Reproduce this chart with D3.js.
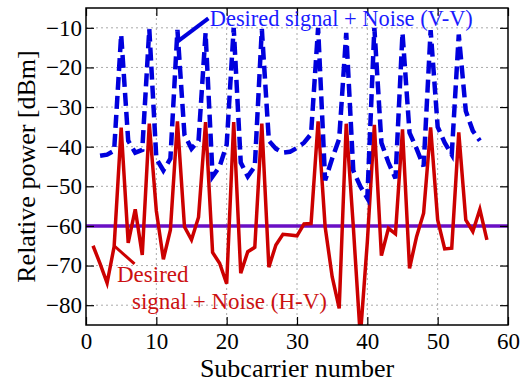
<!DOCTYPE html>
<html>
<head>
<meta charset="utf-8">
<script src="https://cdn.jsdelivr.net/npm/d3@7"></script>
<style>
  body { margin: 0; background: #fff; }
</style>
</head>
<body>
<script>
const width = 530;
const height = 387;
const margin = {top: 8, right: 22, bottom: 62, left: 86};
const FONT = "Liberation Serif";

// Subcarrier numbers and measured powers [dBm]
const hvCarriers = d3.range(1, 58);
const hvPower = [
  -65, -69.5, -74.4, -65.2, -35.2, -64.3, -55.8, -67.3, -34.2, -56.2,
  -68.4, -61, -33.6, -60.2, -63.5, -57.8, -33.8, -66.7, -69.4, -74.6,
  -33.8, -71.9, -66.5, -65.4, -34.2, -70.4, -64.8, -62.1, -62.3, -62.5,
  -59.5, -59.4, -33.6, -60.2, -72.8, -80.8, -34.2, -60, -88, -64,
  -34.5, -67.5, -60.6, -62, -35.6, -70.7, -62.7, -56.8, -35.1, -58.5,
  -65.8, -65.6, -36.4, -58.5, -61.4, -55.8, -63.5
];
const vvCarriers = d3.range(2, 57);
const vvPower = [
  -42.3, -42, -41, -11.7, -38.5, -41.5, -40.8, -10.3, -43,
  -46, -43, -10.5, -37, -40.5, -38.5, -11.3, -47.5, -45, -39.5,
  -10, -44, -47.5, -45, -10.3, -38.5, -40.5, -41.5, -41.3, -40.3,
  -39, -36.8, -10, -48.5, -43, -38, -11.3, -46, -50, -53,
  -10, -39, -44, -48, -11.3, -36.5, -40.5, -45, -10.6, -35,
  -39, -42, -11.7, -31, -36, -38.5
];
const noiseFloor = -60;

const xTicks = [0, 10, 20, 30, 40, 50, 60];
const yTicks = [-80, -70, -60, -50, -40, -30, -20, -10];

const svg = d3.select("body").append("svg")
    .attr("width", width)
    .attr("height", height)
    .attr("font-family", FONT);

const x = d3.scaleLinear().domain([0, 60]).range([margin.left, width - margin.right]);
const y = d3.scaleLinear().domain([-85, -5]).range([height - margin.bottom, margin.top]);

svg.append("defs").append("clipPath").attr("id", "plot")
  .append("rect")
    .attr("x", x(0)).attr("y", y(-5))
    .attr("width", x(60) - x(0)).attr("height", y(-85) - y(-5));

// grid
const grid = svg.append("g").attr("stroke", "#aaa").attr("stroke-dasharray", "2,3").attr("stroke-width", 1);
grid.selectAll(".gx").data(xTicks.slice(1, -1)).join("line")
    .attr("x1", d => x(d)).attr("x2", d => x(d))
    .attr("y1", y(-5)).attr("y2", y(-85));
grid.selectAll(".gy").data(yTicks).join("line")
    .attr("x1", x(0)).attr("x2", x(60))
    .attr("y1", d => y(d)).attr("y2", d => y(d));

const plot = svg.append("g").attr("clip-path", "url(#plot)");

// noise floor (blue and red overlap -> purple)
plot.append("line")
    .attr("x1", x(0)).attr("x2", x(60))
    .attr("y1", y(noiseFloor)).attr("y2", y(noiseFloor))
    .attr("stroke", "#6a0fc4").attr("stroke-width", 3.5);

const line = d3.line().x(d => x(d[0])).y(d => y(d[1]));

plot.append("path")
    .attr("d", line(d3.zip(hvCarriers, hvPower)))
    .attr("fill", "none").attr("stroke", "#cc0000").attr("stroke-width", 3.5)
    .attr("stroke-linejoin", "miter");

plot.append("path")
    .attr("d", line(d3.zip(vvCarriers, vvPower)))
    .attr("fill", "none").attr("stroke", "#0000dd").attr("stroke-width", 4.5)
    .attr("stroke-dasharray", "13,6");

// axes, ticks pointing inward on all four sides
const fmt = d3.format("d");
function styleAxis(g) {
  g.attr("font-family", FONT).attr("font-size", 23);
  g.select(".domain").remove();
  g.selectAll(".tick line").attr("stroke", "#000").attr("stroke-width", 1.2);
  g.selectAll(".tick text").attr("fill", "#000").attr("font-family", FONT);
}
svg.append("g").attr("transform", `translate(0,${y(-85)})`)
    .call(d3.axisBottom(x).tickValues(xTicks).tickFormat(fmt).tickSizeInner(-8).tickSizeOuter(0).tickPadding(8))
    .call(styleAxis);
svg.append("g").attr("transform", `translate(0,${y(-5)})`)
    .call(d3.axisTop(x).tickValues(xTicks).tickFormat("").tickSizeInner(-8).tickSizeOuter(0))
    .call(styleAxis);
svg.append("g").attr("transform", `translate(${x(0)},0)`)
    .call(d3.axisLeft(y).tickValues(yTicks).tickFormat(fmt).tickSizeInner(-8).tickSizeOuter(0).tickPadding(4))
    .call(styleAxis);
svg.append("g").attr("transform", `translate(${x(60)},0)`)
    .call(d3.axisRight(y).tickValues(yTicks).tickFormat("").tickSizeInner(-8).tickSizeOuter(0))
    .call(styleAxis);

svg.append("rect")
    .attr("x", x(0)).attr("y", y(-5))
    .attr("width", x(60) - x(0)).attr("height", y(-85) - y(-5))
    .attr("fill", "none").attr("stroke", "#000").attr("stroke-width", 1.5);

// axis titles
svg.append("text")
    .attr("x", (x(0) + x(60)) / 2).attr("y", height - 10)
    .attr("text-anchor", "middle").attr("font-size", 26).attr("font-family", FONT)
    .text("Subcarrier number");
svg.append("text")
    .attr("transform", `translate(35,${(y(-5) + y(-85)) / 2}) rotate(-90)`)
    .attr("text-anchor", "middle").attr("font-size", 26).attr("font-family", FONT)
    .text("Relative power [dBm]");

// annotations
svg.append("line")
    .attr("x1", x(13)).attr("y1", y(-13.5))
    .attr("x2", x(17.4)).attr("y2", y(-7.6))
    .attr("stroke", "#0000dd").attr("stroke-width", 4);
svg.append("text")
    .attr("x", x(17.6)).attr("y", 26)
    .attr("fill", "#1a1aff").attr("font-size", 22.4).attr("font-family", FONT)
    .text("Desired signal + Noise (V-V)");

svg.append("line")
    .attr("x1", x(4)).attr("y1", y(-65))
    .attr("x2", x(6.9)).attr("y2", y(-69.6))
    .attr("stroke", "#cc0000").attr("stroke-width", 3);
const red = svg.append("text").attr("fill", "#cc1111").attr("font-size", 23).attr("font-family", FONT);
red.append("tspan").attr("x", 117).attr("y", 282).text("Desired");
red.append("tspan").attr("x", 132).attr("y", 309).text("signal + Noise (H-V)");
</script>
</body>
</html>
